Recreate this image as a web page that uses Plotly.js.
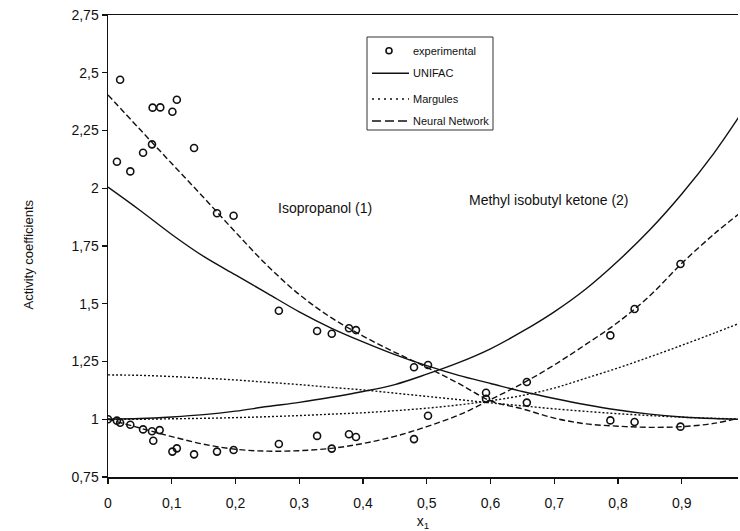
<!DOCTYPE html>
<html>
<head>
<meta charset="utf-8">
<script src="https://cdn.plot.ly/plotly-3.0.1.min.js"></script>
<style>html,body{margin:0;padding:0;background:#fff;}#chart{width:740px;height:531px;}</style>
</head>
<body>
<div id="chart"></div>
<script>
// Experimental data, isopropanol (1)
var expX1 = [0.014, 0.019, 0.035, 0.055, 0.069, 0.070, 0.082, 0.101, 0.108, 0.135, 0.171, 0.197, 0.268, 0.328, 0.351, 0.378, 0.389, 0.480, 0.502, 0.593, 0.657, 0.788, 0.826, 0.898];
var expGamma1 = [2.115, 2.470, 2.073, 2.154, 2.190, 2.349, 2.350, 2.331, 2.383, 2.174, 1.892, 1.881, 1.470, 1.382, 1.370, 1.394, 1.386, 1.225, 1.235, 1.088, 1.072, 0.995, 0.988, 0.968];
// Experimental data, methyl isobutyl ketone (2)
var expX2 = [0.000, 0.014, 0.019, 0.035, 0.055, 0.069, 0.071, 0.081, 0.101, 0.108, 0.135, 0.171, 0.197, 0.268, 0.328, 0.351, 0.378, 0.389, 0.480, 0.502, 0.593, 0.657, 0.788, 0.826, 0.898];
var expGamma2 = [1.000, 0.994, 0.985, 0.976, 0.956, 0.948, 0.907, 0.953, 0.860, 0.874, 0.848, 0.860, 0.867, 0.893, 0.928, 0.873, 0.935, 0.923, 0.914, 1.015, 1.115, 1.161, 1.363, 1.477, 1.672];

// Model curves sampled along x1
var curveX = [0, 0.05, 0.1, 0.15, 0.2, 0.25, 0.3, 0.35, 0.4, 0.45, 0.5, 0.55, 0.6, 0.65, 0.7, 0.75, 0.8, 0.85, 0.9, 0.95, 0.99];
var unifacG1 = [2.005, 1.905, 1.800, 1.705, 1.625, 1.545, 1.465, 1.395, 1.335, 1.280, 1.232, 1.190, 1.155, 1.120, 1.090, 1.063, 1.040, 1.022, 1.010, 1.003, 1.000];
var unifacG2 = [1.000, 1.003, 1.010, 1.020, 1.035, 1.055, 1.073, 1.095, 1.120, 1.150, 1.195, 1.245, 1.305, 1.380, 1.465, 1.565, 1.685, 1.820, 1.975, 2.150, 2.310];
var margulesG1 = [1.192, 1.190, 1.185, 1.178, 1.170, 1.160, 1.150, 1.138, 1.127, 1.113, 1.099, 1.085, 1.071, 1.058, 1.045, 1.034, 1.024, 1.016, 1.009, 1.004, 1.001];
var margulesG2 = [1.000, 1.000, 1.002, 1.004, 1.007, 1.011, 1.016, 1.022, 1.028, 1.037, 1.048, 1.062, 1.080, 1.103, 1.135, 1.178, 1.222, 1.270, 1.320, 1.372, 1.415];
var nnG1 = [2.404, 2.255, 2.107, 1.960, 1.810, 1.665, 1.540, 1.440, 1.360, 1.290, 1.225, 1.155, 1.080, 1.045, 1.005, 0.980, 0.970, 0.965, 0.968, 0.982, 1.005];
var nnG2 = [1.000, 0.962, 0.925, 0.892, 0.870, 0.862, 0.864, 0.874, 0.895, 0.926, 0.968, 1.018, 1.085, 1.155, 1.235, 1.325, 1.420, 1.535, 1.675, 1.800, 1.890];

// Tick labels
var xTickVals = [0, 0.1, 0.2, 0.3, 0.4, 0.5, 0.6, 0.7, 0.8, 0.9];
var xTickText = ['0', '0,1', '0,2', '0,3', '0,4', '0,5', '0,6', '0,7', '0,8', '0,9'];
var yTickVals = [0.75, 1, 1.25, 1.5, 1.75, 2, 2.25, 2.5, 2.75];
var yTickText = ['0,75', '1', '1,25', '1,5', '1,75', '2', '2,25', '2,5', '2,75'];

// Legend labels
var legendLabels = ['experimental', 'UNIFAC', 'Margules', 'Neural Network'];

var ink = '#111111';
var fam = 'Arial, Liberation Sans, sans-serif';
function curve(y, dash) {
  return {x: curveX, y: y, mode: 'lines', type: 'scatter', showlegend: false, hoverinfo: 'skip',
    line: {color: ink, width: 1.4, dash: dash, shape: 'spline', smoothing: 1}};
}
function pts(x, y) {
  return {x: x, y: y, mode: 'markers', type: 'scatter', showlegend: false,
    marker: {symbol: 'circle-open', size: 7, color: ink, line: {width: 1.6, color: ink}}};
}
var traces = [
  curve(unifacG1, 'solid'), curve(unifacG2, 'solid'),
  curve(margulesG1, '2px,2px'), curve(margulesG2, '2px,2px'),
  curve(nnG1, '6px,3px'), curve(nnG2, '6px,3px'),
  pts(expX1, expGamma1), pts(expX2, expGamma2)
];

// Custom legend box in paper coordinates
var L = 108, W = 630, T = 15, H = 462;
function px(xp) { return (xp - L) / W; }
function py(yp) { return (T + H - yp) / H; }
var rowY = [50.7, 73.3, 99, 121];
var shapes = [
  {type: 'rect', xref: 'paper', yref: 'paper', x0: px(367), x1: px(493), y0: py(130), y1: py(37), line: {color: '#333', width: 1}, fillcolor: 'white'},
  {type: 'circle', xref: 'paper', yref: 'paper', x0: px(386), x1: px(392), y0: py(rowY[0] + 3), y1: py(rowY[0] - 3), line: {color: ink, width: 1.6}},
  {type: 'line', xref: 'paper', yref: 'paper', x0: px(372), x1: px(409), y0: py(rowY[1]), y1: py(rowY[1]), line: {color: ink, width: 1.4}},
  {type: 'line', xref: 'paper', yref: 'paper', x0: px(372), x1: px(409), y0: py(rowY[2]), y1: py(rowY[2]), line: {color: ink, width: 1.6, dash: '2px,4px'}},
  {type: 'line', xref: 'paper', yref: 'paper', x0: px(372), x1: px(409), y0: py(rowY[3]), y1: py(rowY[3]), line: {color: ink, width: 1.4, dash: '9px,4px'}}
];
var annotations = [];
for (var i = 0; i < legendLabels.length; i++) {
  annotations.push({xref: 'paper', yref: 'paper', x: px(411), y: py(rowY[i]), xanchor: 'left', yanchor: 'middle',
    text: legendLabels[i], showarrow: false, font: {family: fam, size: 11, color: ink}});
}
annotations.push(
  {xref: 'x', yref: 'y', x: 0.3396, y: 1.914, text: 'Isopropanol (1)', showarrow: false,
   font: {family: fam, size: 14, color: ink}},
  {xref: 'x', yref: 'y', x: 0.6918, y: 1.949, text: 'Methyl isobutyl ketone (2)', showarrow: false,
   font: {family: fam, size: 14, color: ink}},
  {xref: 'paper', yref: 'paper', x: px(19), y: py(255), text: 'Activity coefficients', textangle: -90, showarrow: false,
   font: {family: fam, size: 13, color: ink}}
);

var layout = {
  width: 740, height: 531,
  margin: {l: L, r: 740 - L - W, t: T, b: 531 - T - H, pad: 0},
  paper_bgcolor: 'white', plot_bgcolor: 'white',
  showlegend: false,
  font: {family: fam, size: 14, color: ink},
  xaxis: {range: [0, W / 637.5], showgrid: false, zeroline: false, showline: true, linecolor: ink, linewidth: 1.5,
    mirror: true, ticks: 'outside', ticklen: 5, tickcolor: ink, tickwidth: 1.2,
    tickvals: xTickVals, ticktext: xTickText, tickfont: {size: 14, color: ink}, ticklabelstandoff: 8, fixedrange: true,
    title: {text: 'x<sub>1</sub>', font: {family: fam, size: 14, color: ink}, standoff: 10}, automargin: false},
  yaxis: {range: [0.75, 2.75], showgrid: false, zeroline: false, showline: true, linecolor: ink, linewidth: 1.5,
    ticks: 'outside', ticklen: 5, tickcolor: ink, tickwidth: 1.2,
    tickvals: yTickVals, ticktext: yTickText, tickfont: {size: 14, color: ink}, fixedrange: true},
  shapes: shapes,
  annotations: annotations
};
Plotly.newPlot('chart', traces, layout, {displayModeBar: false, staticPlot: true});
</script>
</body>
</html>
